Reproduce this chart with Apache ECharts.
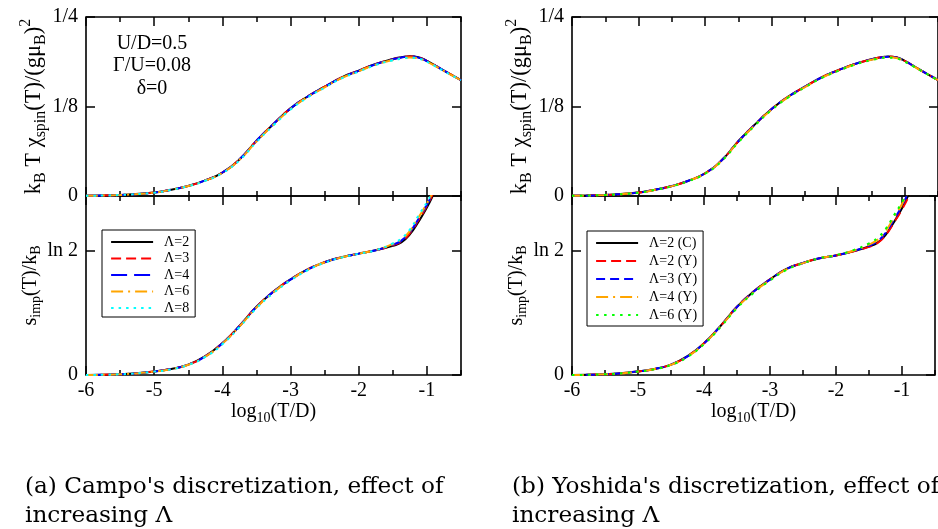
<!DOCTYPE html>
<html><head><meta charset="utf-8">
<script src="https://cdn.jsdelivr.net/npm/echarts@6/dist/echarts.min.js"></script>
<style>html,body{margin:0;padding:0;background:#fff}#c{width:938px;height:529px}</style>
</head><body><div id="c"></div><script>
// ---------------- data ----------------
const logT = [-6,-5.5,-5,-4.75,-4.5,-4.25,-4,-3.75,-3.5,-3.25,-3,-2.75,-2.5,-2.25,-2,-1.75,-1.5,-1.375,-1.25,-1.125,-1,-0.875,-0.75,-0.5];

// (a) Campo: k_B T chi_spin
const chiA_L2 = [0.0003,0.0014,0.0048,0.0088,0.0140,0.0218,0.0327,0.0510,0.0770,0.1005,0.1224,0.1390,0.1527,0.1657,0.1750,0.1844,0.1913,0.1937,0.1952,0.1938,0.1888,0.1822,0.1752,0.1620];
const chiA_L3 = [0.0003,0.0014,0.0048,0.0088,0.0140,0.0218,0.0328,0.0510,0.0772,0.1007,0.1224,0.1390,0.1527,0.1655,0.1750,0.1843,0.1911,0.1935,0.1950,0.1936,0.1886,0.1821,0.1751,0.1620];
const chiA_L4 = [0.0003,0.0014,0.0048,0.0088,0.0141,0.0219,0.0328,0.0512,0.0772,0.1007,0.1222,0.1388,0.1525,0.1654,0.1748,0.1841,0.1909,0.1933,0.1947,0.1933,0.1884,0.1820,0.1750,0.1620];
const chiA_L6 = [0.0003,0.0014,0.0047,0.0087,0.0139,0.0216,0.0323,0.0505,0.0762,0.0997,0.1214,0.1382,0.1518,0.1648,0.1742,0.1834,0.1900,0.1922,0.1935,0.1922,0.1876,0.1814,0.1746,0.1618];
const chiA_L8 = [0.0003,0.0014,0.0047,0.0086,0.0137,0.0213,0.0319,0.0498,0.0753,0.0988,0.1207,0.1376,0.1513,0.1643,0.1738,0.1830,0.1896,0.1918,0.1930,0.1918,0.1873,0.1812,0.1745,0.1617];
// (a) Campo: entropy
const sA_L2 = [0.000,0.004,0.020,0.034,0.058,0.105,0.178,0.274,0.381,0.466,0.534,0.590,0.630,0.658,0.678,0.697,0.722,0.740,0.785,0.855,0.935,1.030,1.120,1.270];
const sA_L3 = [0.000,0.004,0.020,0.034,0.058,0.105,0.178,0.274,0.381,0.466,0.534,0.590,0.630,0.658,0.678,0.697,0.725,0.746,0.792,0.864,0.945,1.040,1.130,1.280];
const sA_L4 = [0.000,0.004,0.020,0.034,0.058,0.104,0.177,0.273,0.380,0.465,0.533,0.589,0.630,0.658,0.678,0.697,0.728,0.751,0.798,0.872,0.952,1.045,1.135,1.280];
const sA_L6 = [0.000,0.004,0.019,0.033,0.057,0.103,0.175,0.271,0.377,0.462,0.531,0.588,0.629,0.657,0.678,0.698,0.732,0.757,0.805,0.880,0.958,1.050,1.140,1.290];
const sA_L8 = [0.000,0.004,0.019,0.032,0.056,0.101,0.172,0.267,0.373,0.458,0.528,0.585,0.627,0.656,0.677,0.697,0.735,0.763,0.812,0.890,0.965,1.055,1.145,1.290];

// (b) Yoshida: k_B T chi_spin
const chiB_C2 = [0.0003,0.0014,0.0048,0.0088,0.0139,0.0213,0.0318,0.0500,0.0765,0.1000,0.1215,0.1387,0.1527,0.1657,0.1757,0.1844,0.1910,0.1935,0.1950,0.1937,0.1888,0.1822,0.1752,0.1620];
const chiB_Y2 = [0.0003,0.0014,0.0048,0.0088,0.0139,0.0213,0.0318,0.0500,0.0765,0.1000,0.1215,0.1387,0.1527,0.1656,0.1756,0.1843,0.1909,0.1934,0.1949,0.1936,0.1887,0.1821,0.1751,0.1620];
const chiB_Y3 = [0.0003,0.0014,0.0048,0.0088,0.0139,0.0213,0.0318,0.0500,0.0764,0.0999,0.1214,0.1386,0.1526,0.1655,0.1755,0.1842,0.1907,0.1932,0.1946,0.1933,0.1885,0.1820,0.1750,0.1620];
const chiB_Y4 = [0.0003,0.0014,0.0047,0.0087,0.0138,0.0211,0.0315,0.0495,0.0757,0.0992,0.1208,0.1381,0.1521,0.1651,0.1751,0.1838,0.1902,0.1926,0.1939,0.1927,0.1880,0.1816,0.1748,0.1619];
const chiB_Y6 = [0.0003,0.0014,0.0047,0.0086,0.0136,0.0208,0.0311,0.0488,0.0749,0.0985,0.1202,0.1376,0.1517,0.1647,0.1747,0.1834,0.1898,0.1921,0.1932,0.1920,0.1875,0.1813,0.1746,0.1618];
// (b) Yoshida: entropy
const sB_C2 = [0.000,0.004,0.020,0.034,0.058,0.105,0.178,0.274,0.381,0.466,0.534,0.593,0.626,0.652,0.668,0.690,0.718,0.738,0.782,0.852,0.932,1.025,1.115,1.265];
const sB_Y2 = [0.000,0.004,0.020,0.034,0.058,0.105,0.178,0.274,0.381,0.466,0.534,0.593,0.626,0.652,0.668,0.690,0.716,0.736,0.780,0.850,0.925,1.015,1.110,1.260];
const sB_Y3 = [0.000,0.004,0.020,0.034,0.058,0.104,0.177,0.273,0.380,0.465,0.533,0.592,0.626,0.652,0.668,0.691,0.722,0.746,0.793,0.866,0.946,1.040,1.130,1.280];
const sB_Y4 = [0.000,0.004,0.019,0.033,0.057,0.103,0.175,0.271,0.377,0.462,0.531,0.590,0.625,0.652,0.669,0.693,0.728,0.755,0.804,0.878,0.955,1.048,1.140,1.290];
const sB_Y6 = [0.000,0.004,0.019,0.032,0.056,0.101,0.172,0.267,0.373,0.458,0.528,0.587,0.624,0.652,0.670,0.696,0.735,0.765,0.815,0.890,0.965,1.055,1.145,1.290];

const namesA = ['Λ=2','Λ=3','Λ=4','Λ=6','Λ=8'];
const namesB = ['Λ=2 (C)','Λ=2 (Y)','Λ=3 (Y)','Λ=4 (Y)','Λ=6 (Y)'];
const xMajorTicks = [-6,-5,-4,-3,-2,-1];
const chiTickVals = [0,0.125,0.25];
const chiTickText = ['0','1/8','1/4'];
const sTickVals = [0,Math.LN2];
const sTickText = ['0','ln 2'];
const annotationLines = ['U/D=0.5','Γ/U=0.08','δ=0'];
const captionA = ["(a) Campo's discretization, effect of","increasing Λ"];
const captionB = ["(b) Yoshida's discretization, effect of","increasing Λ"];

// ---------------- styles ----------------
const FF = '"Liberation Serif","Times New Roman",serif';
const stylesA = [
  {color:'#000000', type:'solid'},
  {color:'#ff0000', type:[10,5]},
  {color:'#0000ff', type:[16,7]},
  {color:'#ffa500', type:[12,5,2,5]},
  {color:'#00ffff', type:[2.5,5]}
];
const stylesB = [
  {color:'#000000', type:'solid'},
  {color:'#ff0000', type:[10,5]},
  {color:'#0000ff', type:[9,5]},
  {color:'#ffa500', type:[12,5,2,5]},
  {color:'#00ff00', type:[2.5,5.5]}
];
const rich = {
  n:{fontFamily:FF, fontSize:20, color:'#000'},
  s:{fontFamily:FF, fontSize:14, color:'#000', padding:[12,0,0,0]},
  p:{fontFamily:FF, fontSize:14, color:'#000', padding:[0,0,14,0]}
};
const richChi = {
  n:{fontFamily:FF, fontSize:22.5, color:'#000'},
  s:{fontFamily:FF, fontSize:16, color:'#000', padding:[13,0,0,0]},
  p:{fontFamily:FF, fontSize:16, color:'#000', padding:[0,0,16,0]}
};
const chiName = '{n|k}{s|B}{n| T }{n|χ}{s|spin}{n|(T)/(gμ}{s|B}{n|)}{p|2}';
const sName = '{n|s}{s|imp}{n|(T)/k}{s|B}';
const xName = '{n|log}{s|10}{n|(T/D)}';

const grids = [
  {left:86, top:17, width:375, height:179},
  {left:86, top:196, width:375, height:179},
  {left:572, top:17, width:375, height:179},
  {left:572, top:196, width:375, height:179}
].map(g => Object.assign(g, {show:true, borderColor:'#000', borderWidth:1.6, backgroundColor:'transparent'}));

const tickLine = {color:'#000', width:1.5};
const xAxes = [], yAxes = [];
grids.forEach((g, gi) => {
  const isBottom = gi % 2 === 1;
  const base = {type:'value', gridIndex:gi, min:-6, max:-0.5, interval:0.5,
    axisLine:{show:false, onZero:false}, splitLine:{show:false}};
  xAxes.push(Object.assign({}, base, {position:'bottom',
    axisTick:{inside:true, length:5, lineStyle:tickLine},
    axisLabel:{show:isBottom, margin:6, fontFamily:FF, fontSize:20, color:'#000',
      formatter: v => xMajorTicks.indexOf(v) >= 0 ? String(v) : ''},
    name: isBottom ? xName : '', nameLocation:'middle', nameGap:24,
    nameTextStyle:{rich:rich}}));
  xAxes.push(Object.assign({}, base, {position:'bottom',
    axisTick:{inside:true, length:9, lineStyle:tickLine, customValues:xMajorTicks},
    axisLabel:{show:false}}));
  xAxes.push(Object.assign({}, base, {position:'top',
    axisTick:{inside:true, length:5, lineStyle:tickLine}, axisLabel:{show:false}}));
  xAxes.push(Object.assign({}, base, {position:'top',
    axisTick:{inside:true, length:9, lineStyle:tickLine, customValues:xMajorTicks},
    axisLabel:{show:false}}));

  const vals = isBottom ? sTickVals : chiTickVals;
  const txt = isBottom ? sTickText : chiTickText;
  const ybase = {type:'value', gridIndex:gi, min:0, max: isBottom ? 1 : 0.25,
    axisLine:{show:false, onZero:false}, splitLine:{show:false}};
  yAxes.push(Object.assign({}, ybase, {position:'left',
    axisTick:{inside:true, length:9, lineStyle:tickLine, customValues:vals},
    axisLabel:{customValues:vals, margin:8, fontFamily:FF, fontSize:20, color:'#000',
      formatter: v => { const i = vals.findIndex(t => Math.abs(t - v) < 1e-9); return i >= 0 ? txt[i] : ''; }},
    name: isBottom ? sName : chiName, nameLocation:'middle', nameRotate:90, nameGap: isBottom ? 38 : 36,
    nameTextStyle:{rich: isBottom ? rich : richChi}}));
  yAxes.push(Object.assign({}, ybase, {position:'right',
    axisTick:{inside:true, length:9, lineStyle:tickLine, customValues:vals},
    axisLabel:{show:false}}));
});

function mk(name, ys, gi, st) {
  return {type:'line', name:name, xAxisIndex:gi*4, yAxisIndex:gi*2,
    data: logT.map((x, i) => [x, ys[i]]), symbol:'none', showSymbol:false,
    smooth:0.5, clip:true,
    lineStyle:{color:st.color, width:2, type:st.type}, itemStyle:{color:st.color},
    emphasis:{disabled:true}};
}
const panelData = [
  [chiA_L2, chiA_L3, chiA_L4, chiA_L6, chiA_L8],
  [sA_L2, sA_L3, sA_L4, sA_L6, sA_L8],
  [chiB_C2, chiB_Y2, chiB_Y3, chiB_Y4, chiB_Y6],
  [sB_C2, sB_Y2, sB_Y3, sB_Y4, sB_Y6]
];
const series = [];
panelData.forEach((arrs, gi) => {
  const names = gi < 2 ? namesA : namesB;
  const styles = gi < 2 ? stylesA : stylesB;
  arrs.forEach((ys, k) => series.push(mk(names[k], ys, gi, styles[k])));
});

const legendText = {fontFamily:FF, fontSize:14, color:'#000', lineHeight:16, padding:[0,0,0,6]};
const hiddenSymbol = {color:'rgba(0,0,0,0)', borderColor:'rgba(0,0,0,0)', borderWidth:0, opacity:0};
const option = {
  animation:false,
  backgroundColor:'#fff',
  grid: grids,
  xAxis: xAxes,
  yAxis: yAxes,
  legend: [
    {data:namesA, orient:'vertical', left:102, top:230, itemWidth:42, itemHeight:12, itemGap:0.5,
     padding:[4,6,1,8], borderColor:'#000', borderWidth:1, textStyle:legendText, selectedMode:false,
     itemStyle:hiddenSymbol, lineStyle:{width:2.2}},
    {data:namesB, orient:'vertical', left:587, top:231, itemWidth:42, itemHeight:12, itemGap:2,
     padding:[4,6,3,8], borderColor:'#000', borderWidth:1, textStyle:legendText, selectedMode:false,
     itemStyle:hiddenSymbol, lineStyle:{width:2.2}}
  ],
  graphic: [
    {type:'text', x:152, y:32, style:{text:annotationLines.join('\n'), font:'20px ' + FF, fill:'#000',
      align:'center', verticalAlign:'top', lineHeight:22.5}},
    {type:'text', x:25, y:472, style:{text:captionA.join('\n'), font:'23.2px "DejaVu Serif",serif', fill:'#000',
      align:'left', verticalAlign:'top', lineHeight:29}},
    {type:'text', x:512, y:472, style:{text:captionB.join('\n'), font:'23.2px "DejaVu Serif",serif', fill:'#000',
      align:'left', verticalAlign:'top', lineHeight:29}}
  ],
  series: series
};
const chart = echarts.init(document.getElementById('c'), null, {renderer:'canvas'});
chart.setOption(option);
</script></body></html>
